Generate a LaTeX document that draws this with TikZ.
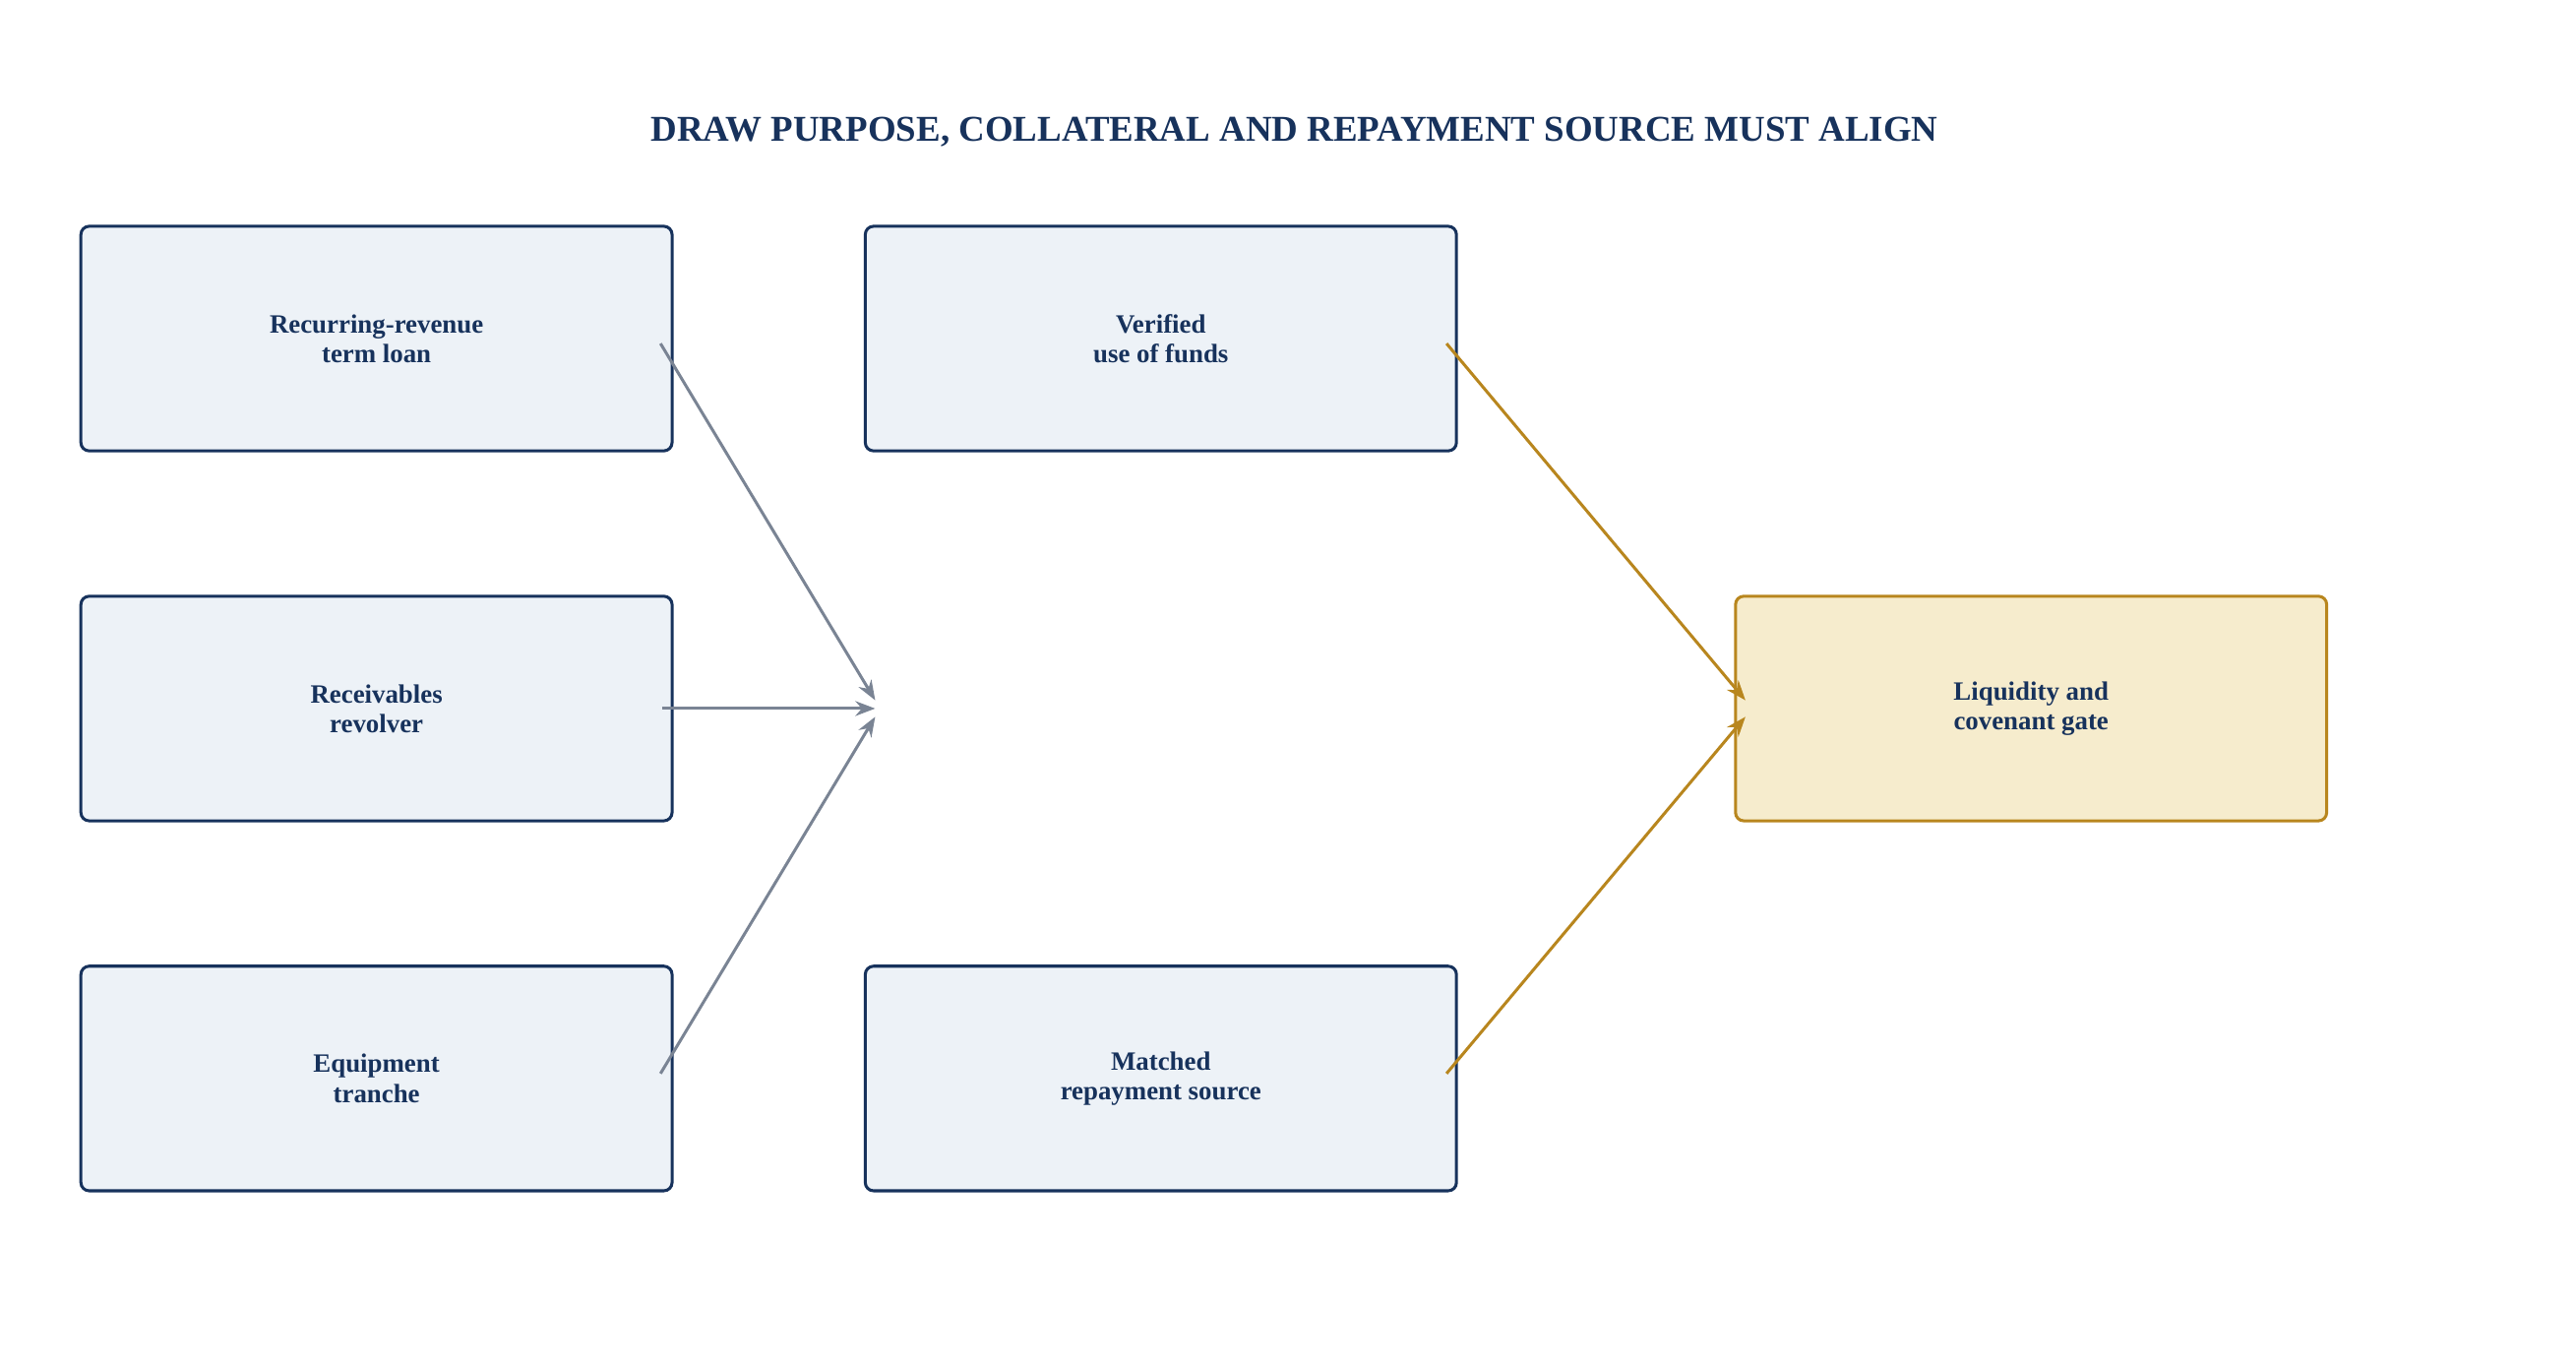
\documentclass[tikz,border=0pt]{standalone}
\usepackage{fontspec}
\setmainfont{Liberation Serif}
\usetikzlibrary{arrows.meta}
\definecolor{navy}{HTML}{17325C}
\definecolor{boxfill}{HTML}{EDF2F7}
\definecolor{gold}{HTML}{B8861E}
\definecolor{goldfill}{HTML}{F6ECCD}
\definecolor{grayarr}{HTML}{7A8494}
\begin{document}
\begin{tikzpicture}[x=1pt,y=-1pt,
  box/.style={draw=navy,fill=boxfill,line width=1.8pt,rounded corners=5pt,minimum width=358pt,minimum height=136pt,align=center,font=\bfseries\fontsize{16}{18}\selectfont,text=navy},
  gate/.style={box,draw=gold,fill=goldfill},
  garr/.style={draw=grayarr,line width=1.8pt,-{Stealth[length=12pt,width=9pt]}},
  oarr/.style={draw=gold,line width=1.8pt,-{Stealth[length=12pt,width=9pt]}}]
\useasboundingbox (0,0) rectangle (1560,826);
\node[font=\bfseries\fontsize{22}{26}\selectfont,text=navy] (title) at (784,80) {DRAW PURPOSE, COLLATERAL AND REPAYMENT SOURCE MUST ALIGN};
\node[box] (a) at (228,205) {Recurring-revenue\\term loan};
\node[box] (b) at (228,429) {Receivables\\revolver};
\node[box] (c) at (228,653) {Equipment\\tranche};
\node[box] (d) at (703,205) {Verified\\use of funds};
\node[box] (e) at (703,653) {Matched\\repayment source};
\node[gate] (g) at (1230,429) {Liquidity and\\covenant gate};
\coordinate (a1) at (400,208); \coordinate (b1) at (401,429); \coordinate (c1) at (400,650);
\coordinate (m1) at (530,424); \coordinate (m2) at (530,429); \coordinate (m3) at (530,434);
\coordinate (d1) at (876,208); \coordinate (e1) at (876,650);
\coordinate (g1) at (1057,424); \coordinate (g2) at (1057,434);
\draw[garr] (a1) -- (m1);
\draw[garr] (b1) -- (m2);
\draw[garr] (c1) -- (m3);
\draw[oarr] (d1) -- (g1);
\draw[oarr] (e1) -- (g2);
\end{tikzpicture}
\end{document}
